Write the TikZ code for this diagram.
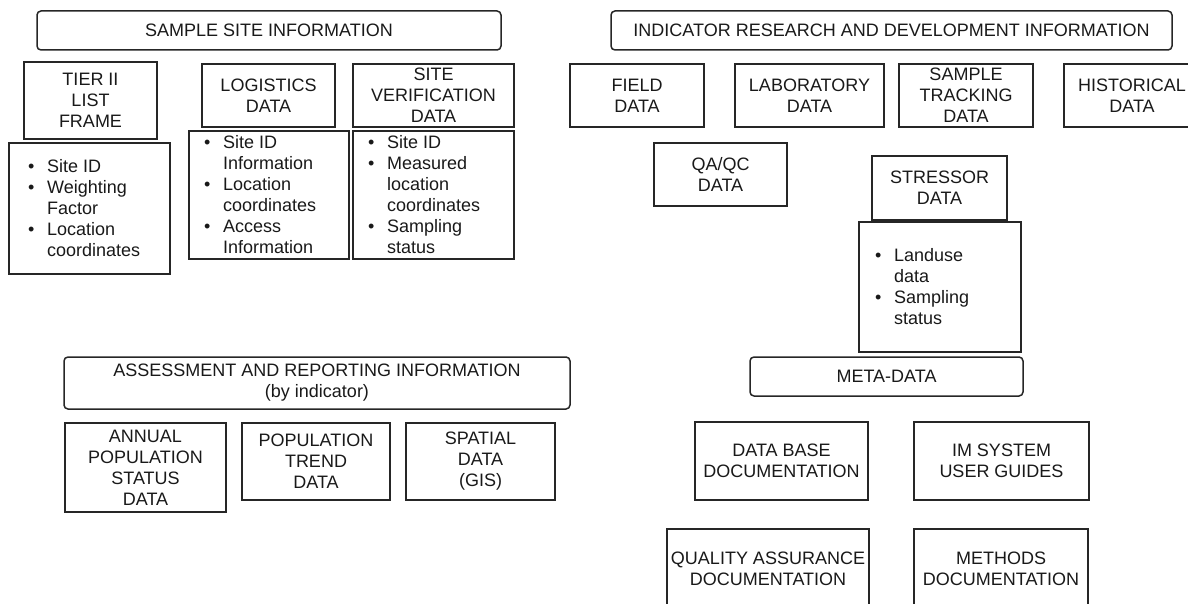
\documentclass[tikz,border=0pt]{standalone}
\usepackage{fontspec}
\setmainfont{Liberation Sans}
\newcommand{\bitem}[1]{\makebox[19pt][l]{\textbullet}#1}
\newcommand{\cont}[1]{\hspace*{19pt}#1}
\begin{document}
\begin{tikzpicture}[x=1pt,y=-1pt,
  every node/.style={font=\fontsize{18}{21}\selectfont, text=black!90},
  box/.style={draw=black!85, line width=1.5pt, rectangle, inner sep=0pt, align=center},
  rbox/.style={box, rounded corners=4pt},
  listtext/.style={anchor=west, inner sep=0pt, align=left}]
\useasboundingbox (0,0) rectangle (1188,604);
\clip (0,0) rectangle (1188,604);
% Sample site information
\node[rbox, minimum width=464pt, minimum height=39pt] (ssi) at (269,30.5) {SAMPLE SITE INFORMATION};
\node[box, minimum width=133pt, minimum height=77pt] (tier) at (90.5,100.5) {TIER II\\LIST\\FRAME};
\node[box, minimum width=161pt, minimum height=131pt] (tierlist) at (89.5,208.5) {};
\node[listtext] (tiertext) at (28,208.5) {\bitem{Site ID}\\\bitem{Weighting}\\\cont{Factor}\\\bitem{Location}\\\cont{coordinates}};
\node[box, minimum width=133pt, minimum height=63pt] (log) at (268.5,95.5) {LOGISTICS\\DATA};
\node[box, minimum width=160pt, minimum height=128pt] (loglist) at (269,195) {};
\node[listtext] (logtext) at (204,195) {\bitem{Site ID}\\\cont{Information}\\\bitem{Location}\\\cont{coordinates}\\\bitem{Access}\\\cont{Information}};
\node[box, minimum width=161pt, minimum height=63pt] (sv) at (433.5,95.5) {SITE\\VERIFICATION\\DATA};
\node[box, minimum width=161pt, minimum height=128pt] (svlist) at (433.5,195) {};
\node[listtext] (svtext) at (368,195) {\bitem{Site ID}\\\bitem{Measured}\\\cont{location}\\\cont{coordinates}\\\bitem{Sampling}\\\cont{status}};
% Indicator research and development information
\node[rbox, minimum width=561pt, minimum height=39pt] (ird) at (891.5,30.5) {INDICATOR RESEARCH AND DEVELOPMENT INFORMATION};
\node[box, minimum width=134pt, minimum height=63pt] (field) at (637,95.5) {FIELD\\DATA};
\node[box, minimum width=149pt, minimum height=63pt] (lab) at (809.5,95.5) {LABORATORY\\DATA};
\node[box, minimum width=134pt, minimum height=63pt] (track) at (966,95.5) {SAMPLE\\TRACKING\\DATA};
\node[box, minimum width=136pt, minimum height=63pt] (hist) at (1132,95.5) {HISTORICAL\\DATA};
\node[box, minimum width=133pt, minimum height=63pt] (qaqc) at (720.5,174.5) {QA/QC\\DATA};
\node[box, minimum width=135pt, minimum height=64pt] (stress) at (939.5,188) {STRESSOR\\DATA};
\node[box, minimum width=162pt, minimum height=130pt] (stresslist) at (940,287) {};
\node[listtext] (stresstext) at (875,287) {\bitem{Landuse}\\\cont{data}\\\bitem{Sampling}\\\cont{status}};
% Meta-data
\node[rbox, minimum width=273pt, minimum height=39pt] (meta) at (886.5,376.5) {META-DATA};
\node[box, minimum width=173pt, minimum height=78pt] (dbdoc) at (781.5,461) {DATA BASE\\DOCUMENTATION};
\node[box, minimum width=175pt, minimum height=78pt] (imsys) at (1001.5,461) {IM SYSTEM\\USER GUIDES};
\node[box, minimum width=202pt, minimum height=79pt] (qadoc) at (768,568.5) {QUALITY ASSURANCE\\DOCUMENTATION};
\node[box, minimum width=174pt, minimum height=79pt] (methods) at (1001,568.5) {METHODS\\DOCUMENTATION};
% Assessment and reporting information
\node[rbox, minimum width=506pt, minimum height=52pt] (ari) at (317,383) {ASSESSMENT AND REPORTING INFORMATION\\(by indicator)};
\node[box, minimum width=161pt, minimum height=89pt] (annual) at (145.5,467.5) {ANNUAL\\POPULATION\\STATUS\\DATA};
\node[box, minimum width=148pt, minimum height=77pt] (trend) at (316,461.5) {POPULATION\\TREND\\DATA};
\node[box, minimum width=149pt, minimum height=77pt] (spatial) at (480.5,461.5) {SPATIAL\\DATA\\(GIS)};
\end{tikzpicture}
\end{document}
